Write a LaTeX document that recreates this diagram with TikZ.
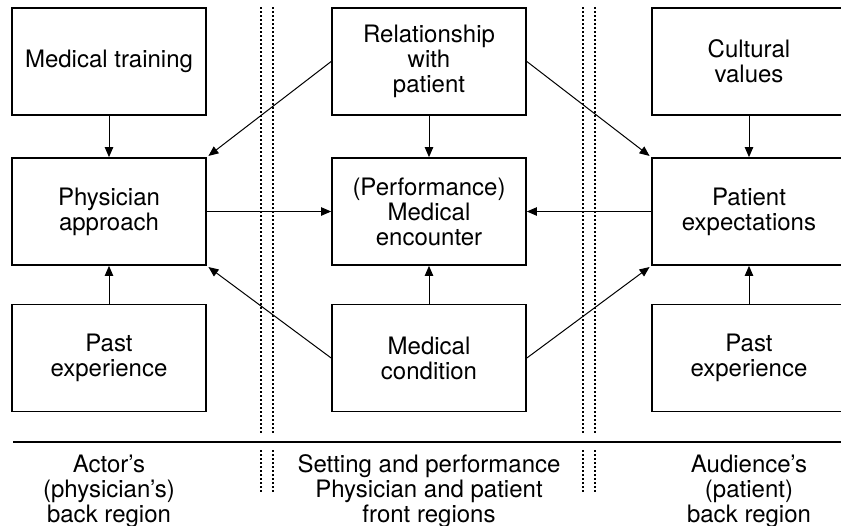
\documentclass[tikz,border=0pt]{standalone}
\usepackage{fontspec}
\setmainfont{TeX Gyre Heros}
\usetikzlibrary{arrows.meta,positioning}

\begin{document}
\begin{tikzpicture}[x=0.5pt,y=-0.5pt,on grid,>={Triangle[length=5pt,width=4.2pt]},
    font=\fontsize{12}{12.5}\selectfont,
    box/.style={draw,line width=0.85pt,minimum width=97pt,minimum height=53.5pt,inner sep=0pt,align=center},
    region/.style={align=center},
    sep/.style={line width=0.7pt,dash pattern=on 0.8pt off 1.2pt}]
      \useasboundingbox (0,0) rectangle (841,525);
      \clip (0,0) rectangle (841,525);

      % actor / setting / audience columns
      \node[box] (mt)  at (109,61.5)       {Medical training};
      \node[box] (pa)  [below=75pt of mt]  {Physician\\approach};
      \node[box] (pe1) [below=73.25pt of pa] {Past\\experience};
      \node[box] (rel) [right=160pt of mt] {Relationship\\with\\patient};
      \node[box] (me)  [right=160pt of pa] {(Performance)\\Medical\\encounter};
      \node[box] (mc)  [right=160pt of pe1] {Medical\\condition};
      \node[box] (cv)  [right=160pt of rel] {Cultural\\values};
      \node[box] (pex) [right=160pt of me] {Patient\\expectations};
      \node[box] (pe2) [right=160pt of mc] {Past\\experience};

      \node[region] (back1) [below=66.5pt of pe1] {Actor's\\(physician's)\\back region};
      \node[region] (front) [below=66.5pt of mc]  {Setting and performance\\Physician and patient\\front regions};
      \node[region] (back2) [below=66.5pt of pe2] {Audience's\\(patient)\\back region};

      % region borders
      \draw[line width=1.4pt] (13,442) -- (841,442);
      \foreach \x in {261,273,583,595} {
        \draw[sep] (\x,7) -- (\x,433);
        \draw[sep] (\x,450) -- (\x,492);
      }

      \path[->,line width=0.5pt]
            (mt)  edge (pa)
            (pe1) edge (pa)
            (pa)  edge (me)
            (rel) edge (me)
            (mc)  edge (me)
            (pex) edge (me)
            (cv)  edge (pex)
            (pe2) edge (pex)
            (rel.west) edge[shorten >=1pt] (pa.north east)
            (rel.east) edge[shorten >=1pt] (pex.north west)
            (mc.west)  edge[shorten >=1pt] (pa.south east)
            (mc.east)  edge[shorten >=1pt] (pex.south west);
    \end{tikzpicture}
\end{document}
